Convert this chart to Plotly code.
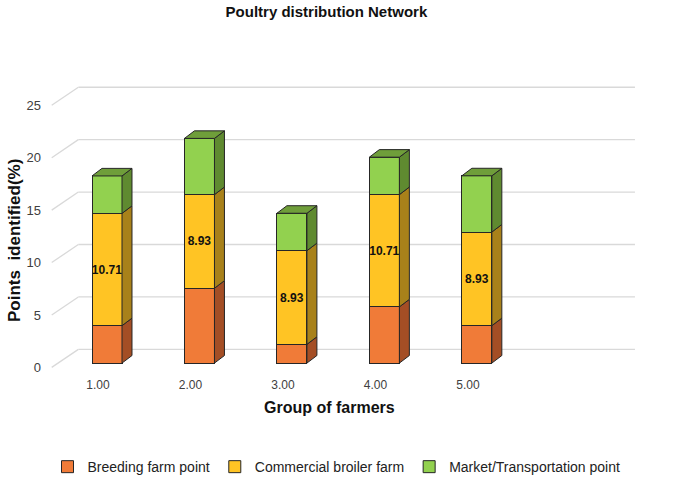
import plotly.graph_objects as go

# ---------------- data ----------------
categories = ["1.00", "2.00", "3.00", "4.00", "5.00"]
breeding = [3.57, 7.14, 1.79, 5.36, 3.57]
commercial = [10.71, 8.93, 8.93, 10.71, 8.93]
market = [3.57, 5.36, 3.57, 3.57, 5.36]
series_names = ["Breeding farm point", "Commercial broiler farm", "Market/Transportation point"]
y_ticks = [0, 5, 10, 15, 20, 25]

# ---------------- styling ----------------
front_colors = ["#F07B38", "#FFC424", "#92D14F"]
side_colors = ["#A44E25", "#A8811A", "#5F8A30"]
top_color = "#6F9E3A"
edge = "#262626"
grid_color = "#D9D9D9"

xpos = list(range(1, len(categories) + 1))
W = 0.3245          # bar front width (category units)
DX, DY = 0.108, 0.72  # 3D depth offset
FRONT_DX, FRONT_DY = 0.402, -0.41   # floor front edge
BACK_DX, BACK_DY = 0.690, 1.31      # back wall
X_END = 6.71

fig = go.Figure()

series = [breeding, commercial, market]

# front faces (stacked bars)
for k, (name, vals) in enumerate(zip(series_names, series)):
    show_text = (k == 1)
    fig.add_trace(go.Bar(
        x=xpos, y=vals, name=name, width=W,
        marker=dict(color=front_colors[k], line=dict(color=edge, width=1)),
        text=[f"<b>{v:.2f}</b>" for v in vals] if show_text else None,
        textposition="inside" if show_text else "none",
        insidetextanchor="middle",
        constraintext="none",
        textangle=0,
        insidetextfont=dict(size=12, color="#111111", family="Liberation Sans, Arial"),
        hoverinfo="skip",
    ))

# side faces
bases = [0] * len(xpos)
for k, vals in enumerate(series):
    xs, ys = [], []
    for i, x in enumerate(xpos):
        y0 = bases[i]
        y1 = bases[i] + vals[i]
        xr = x + W / 2
        xs += [xr, xr + DX, xr + DX, xr, xr, None]
        ys += [y0, y0 + DY, y1 + DY, y1, y0, None]
    bases = [b + v for b, v in zip(bases, vals)]
    fig.add_trace(go.Scatter(
        x=xs, y=ys, mode="lines", fill="toself", fillcolor=side_colors[k],
        line=dict(color=edge, width=1), showlegend=False, hoverinfo="skip",
    ))

# top faces
xs, ys = [], []
for i, x in enumerate(xpos):
    t = bases[i]
    xl, xr = x - W / 2, x + W / 2
    xs += [xl, xl + DX, xr + DX, xr, xl, None]
    ys += [t, t + DY, t + DY, t, t, None]
fig.add_trace(go.Scatter(
    x=xs, y=ys, mode="lines", fill="toself", fillcolor=top_color,
    line=dict(color=edge, width=1), showlegend=False, hoverinfo="skip",
))

# perspective gridlines
shapes = []
for v in y_ticks:
    shapes.append(dict(type="line", xref="x", yref="y", layer="below",
                       x0=FRONT_DX, y0=v + FRONT_DY, x1=BACK_DX, y1=v + BACK_DY,
                       line=dict(color=grid_color, width=1.3)))
    shapes.append(dict(type="line", xref="x", yref="y", layer="below",
                       x0=BACK_DX, y0=v + BACK_DY, x1=X_END, y1=v + BACK_DY,
                       line=dict(color=grid_color, width=1.3)))

# invisible trace on y2 to drive tick labels
fig.add_trace(go.Scatter(x=[None], y=[None], yaxis="y2", showlegend=False, hoverinfo="skip"))

YR = [-0.85, 27.0]
fig.update_layout(
    width=673, height=484,
    margin=dict(l=42, r=30, t=80, b=112),
    paper_bgcolor="white", plot_bgcolor="white",
    barmode="stack",
    shapes=shapes,
    font=dict(family="Liberation Sans, Arial", color="#000000"),
    title=dict(text="<b>Poultry distribution Network</b>", x=0.485, xanchor="center",
               y=0.975, yanchor="middle", font=dict(size=15, color="#111111")),
    xaxis=dict(range=[0.297, 6.797], showgrid=False, zeroline=False, showline=False,
               tickmode="array", tickvals=[x - 0.097 for x in xpos], ticktext=categories,
               tickfont=dict(size=12, color="#404040"), ticks="", ticklabelstandoff=4),
    yaxis=dict(range=YR, showgrid=False, zeroline=False, showline=False,
               showticklabels=False, ticks=""),
    yaxis2=dict(range=[YR[0] - FRONT_DY, YR[1] - FRONT_DY], overlaying="y", side="left",
                showgrid=False, zeroline=False, showline=False,
                tickmode="array", tickvals=y_ticks, ticktext=[str(t) for t in y_ticks],
                tickfont=dict(size=13, color="#404040"), ticks=""),
    legend=dict(orientation="h", xref="container", yref="container",
                x=0.5, xanchor="center", y=0.035, yanchor="middle",
                font=dict(size=14, color="#222222"), itemwidth=30,
                traceorder="normal", tracegroupgap=0),
    annotations=[
        dict(text="<b>Group of farmers</b>", xref="paper", yref="paper",
             x=0.479, y=-0.123, showarrow=False, font=dict(size=16, color="#111111"),
             xanchor="center", yanchor="middle"),
        dict(text="<b>Points  identified(%)</b>", xref="paper", yref="paper",
             x=-0.0466, y=0.452, showarrow=False, textangle=-90,
             font=dict(size=17, color="#111111"), xanchor="center", yanchor="middle"),
    ],
)

fig.write_html("out.html")
